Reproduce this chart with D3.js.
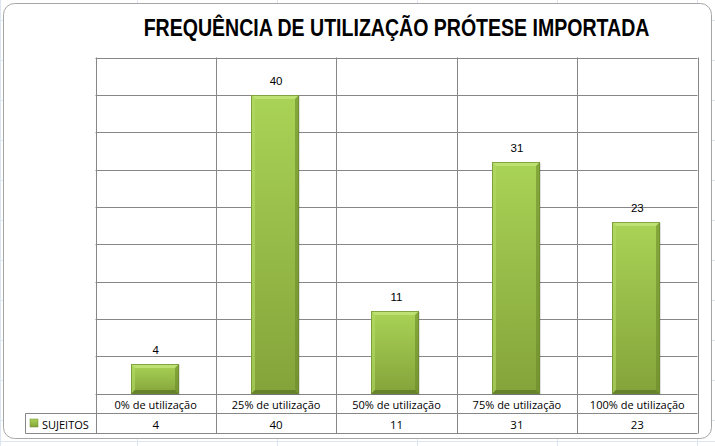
<!DOCTYPE html>
<html><head><meta charset="utf-8">
<script src="https://cdn.jsdelivr.net/npm/d3@7"></script>
<style>body{margin:0;background:#fff;}svg{display:block;}</style>
</head><body>
<svg id="c" width="715" height="446"></svg>
<script>
const categories = ["0% de utilização","25% de utilização","50% de utilização","75% de utilização","100% de utilização"];
const values = [4, 40, 11, 31, 23];
const seriesName = "SUJEITOS";
const yTicks = [0,5,10,15,20,25,30,35,40,45];
const title = "FREQUÊNCIA DE UTILIZAÇÃO PRÓTESE IMPORTADA";

const svg = d3.select("#c");
const W = 715, H = 446;
const L = 95.5, R = 697.5, T = 57.5, B = 393.5;
const rowH = 20;

// outside excel-like grid
const bg = svg.append("g");
[0, 137, 277, 417, 557, 697].forEach(x => bg.append("line").attr("x1", x+0.5).attr("x2", x+0.5).attr("y1", 0).attr("y2", H).attr("stroke", "#dce6f0"));
[441, 20, 60, 100, 140, 180, 220, 260, 300, 340, 380, 420].forEach(y => bg.append("line").attr("x1", 0).attr("x2", W).attr("y1", y+0.5).attr("y2", y+0.5).attr("stroke", "#dce6f0"));

// chart area
svg.append("rect").attr("x", 3.5).attr("y", 3.5).attr("width", 708).attr("height", 435).attr("rx", 11)
  .attr("fill", "#fff").attr("stroke", "#a6a6a6").attr("stroke-width", 1);

const defs = svg.append("defs");
const g1 = defs.append("linearGradient").attr("id", "barG").attr("x1", 0).attr("x2", 0).attr("y1", 0).attr("y2", 1);
g1.append("stop").attr("offset", "0%").attr("stop-color", "#a9d356");
g1.append("stop").attr("offset", "100%").attr("stop-color", "#84a33a");

const x = d3.scaleBand().domain(categories).range([L, R]).paddingInner(0).paddingOuter(0);
const y = d3.scaleLinear().domain([0, 45]).range([B, T]);

// gridlines
const grid = svg.append("g");
grid.selectAll("line.h").data(yTicks).join("line")
  .attr("x1", L).attr("x2", R).attr("y1", d => Math.round(y(d)) + 0.5).attr("y2", d => Math.round(y(d)) + 0.5)
  .attr("stroke", "#878787");
const bounds = categories.map(c => x(c)).concat([R]);
grid.selectAll("line.v").data(bounds).join("line")
  .attr("x1", d => Math.round(d) + 0.5).attr("x2", d => Math.round(d) + 0.5)
  .attr("y1", T).attr("y2", B + 2*rowH)
  .attr("stroke", "#878787");
// table lines
grid.append("line").attr("x1", 25.5).attr("x2", R).attr("y1", B + rowH).attr("y2", B + rowH).attr("stroke", "#878787");
grid.append("line").attr("x1", 25.5).attr("x2", R).attr("y1", B + 2*rowH).attr("y2", B + 2*rowH).attr("stroke", "#878787");
grid.append("line").attr("x1", 25.5).attr("x2", 25.5).attr("y1", B + rowH).attr("y2", B + 2*rowH).attr("stroke", "#878787");

// bars
const bw = x.bandwidth() * 0.4;
const bars = svg.append("g").selectAll("g").data(categories).join("g");
bars.each(function(c, i) {
  const g = d3.select(this);
  const x0 = Math.round(x(c) + x.bandwidth()/2 - bw/2) - 1, x1 = Math.round(x0 + bw);
  const y0 = Math.round(y(values[i])), y1 = Math.round(y(0));
  const e = 4;
  g.append("rect").attr("x", x0+1).attr("y", y0+1).attr("width", x1-x0).attr("height", y1-y0).attr("fill", "#000").attr("opacity", 0.12);
  g.append("rect").attr("x", x0).attr("y", y0).attr("width", x1-x0).attr("height", y1-y0).attr("fill", "url(#barG)");
  g.append("polygon").attr("points", `${x0},${y0} ${x1},${y0} ${x1-e},${y0+e} ${x0+e},${y0+e}`).attr("fill", "#c3e57a").attr("opacity", 0.8);
  g.append("polygon").attr("points", `${x0},${y0} ${x0+e},${y0+e} ${x0+e},${y1-e} ${x0},${y1}`).attr("fill", "#b2da66").attr("opacity", 0.6);
  g.append("polygon").attr("points", `${x1},${y0} ${x1-e},${y0+e} ${x1-e},${y1-e} ${x1},${y1}`).attr("fill", "#6d8a2c").attr("opacity", 0.6);
  g.append("polygon").attr("points", `${x0},${y1} ${x0+e},${y1-e} ${x1-e},${y1-e} ${x1},${y1}`).attr("fill", "#5f7a26").attr("opacity", 0.8);
  g.append("rect").attr("x", x0+0.5).attr("y", y0+0.5).attr("width", x1-x0-1).attr("height", y1-y0-1).attr("fill", "none").attr("stroke", "#6b8a2a").attr("stroke-width", 1).attr("opacity", 0.7);
  g.append("text").attr("x", x(c) + x.bandwidth()/2).attr("y", y0 - 10)
    .attr("text-anchor", "middle").attr("font-family", "Liberation Sans, Arial, sans-serif").attr("font-size", 11.5).attr("fill", "#000")
    .text(values[i]);
});

// table text
const tf = "Open Sans, DejaVu Sans, sans-serif";
svg.append("g").selectAll("text").data(categories).join("text")
  .attr("x", c => x(c) + x.bandwidth()/2).attr("y", B + 15)
  .attr("text-anchor", "middle").attr("font-family", tf).attr("font-size", 11).attr("fill", "#000")
  .text(c => c);
svg.append("g").selectAll("text").data(values).join("text")
  .attr("x", (v, i) => x(categories[i]) + x.bandwidth()/2).attr("y", B + rowH + 15)
  .attr("text-anchor", "middle").attr("font-family", tf).attr("font-size", 11.5).attr("fill", "#000")
  .text(v => v);
// legend key
svg.append("rect").attr("x", 30).attr("y", 419).attr("width", 8).attr("height", 8).attr("fill", "url(#barG)").attr("stroke", "#6b8a2a").attr("stroke-width", 0.5);
svg.append("text").attr("x", 42).attr("y", B + rowH + 15).attr("font-family", tf).attr("font-size", 11).attr("fill", "#000").text(seriesName);

// title
svg.append("text").attr("transform", `translate(${(L+R)/2},36) scale(0.85,1)`).attr("text-anchor", "middle")
  .attr("font-family", "Liberation Sans, Arial, sans-serif").attr("font-weight", "bold").attr("font-size", 23)
  .attr("fill", "#000").text(title);
</script>
</body></html>
